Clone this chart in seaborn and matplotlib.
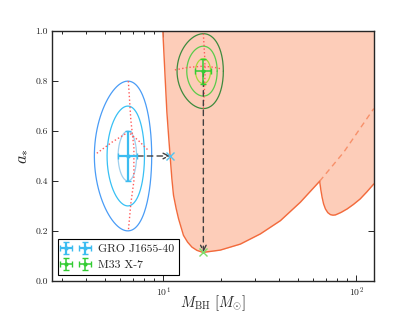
import numpy as np
import matplotlib
matplotlib.use("Agg")
import matplotlib.pyplot as plt
import pandas as pd
import seaborn as sns

# ---- spin measurements (mass, spin, 1-sigma errors) ----
sources = ["GRO J1655-40", "M33 X-7"]
mass = [6.56, 16.15]
mass_err = [0.72, 1.45]
spin = [0.50, 0.84]
spin_err = [0.10, 0.05]
err_colors = ["#3cbcf0", "#33cc33"]
contour_colors = [["#9fd0ee", "#38c0f4", "#4a9cf6"],
                  ["#a6d836", "#5acb4a", "#3d8a3d"]]

# ---- ridge lines through the likelihood (red dotted) ----
ridge_v_m = [[6.60, 6.80, 7.05, 7.05, 6.80, 6.60], [16.15, 16.4, 16.5, 16.35, 16.15]]
ridge_v_a = [[0.80, 0.643, 0.535, 0.40, 0.31, 0.20], [0.99, 0.90, 0.84, 0.76, 0.69]]
ridge_h_m = [[4.53, 5.42, 6.60, 7.44, 8.39], [11.5, 13.5, 16.2, 18.5, 20.2]]
ridge_h_a = [[0.511, 0.555, 0.596, 0.562, 0.522], [0.845, 0.855, 0.86, 0.855, 0.848]]

# ---- where each source ends up (x markers) ----
end_mass = [10.87, 16.15]
end_spin = [0.50, 0.114]
end_colors = ["#55c4f0", "#7ddc6a"]

# ---- allowed region boundary ----
branch1_m = [9.96, 10.24, 10.45, 10.66, 10.87, 11.09, 11.31, 11.68, 12.01, 12.74,
             13.38, 14.09, 14.95, 15.88, 16.19, 19.76, 25.1, 31.9, 40.5, 51.4, 64.7]
branch1_a = [1.0, 0.811, 0.677, 0.584, 0.497, 0.410, 0.343, 0.289, 0.249, 0.182,
             0.155, 0.135, 0.122, 0.115, 0.114, 0.123, 0.147, 0.188, 0.241, 0.315, 0.399]
branch2_m = [64.7, 65.6, 66.6, 67.8, 69.3, 71.3, 73.6, 75.8, 78.1, 83.5, 89.8, 96.8, 104.9, 113.5, 123.4]
branch2_a = [0.399, 0.365, 0.335, 0.308, 0.288, 0.273, 0.265, 0.263, 0.264, 0.274, 0.288, 0.306, 0.328, 0.356, 0.388]
dashed_m = [64.7, 86.2, 123.4]
dashed_a = [0.399, 0.515, 0.69]

FILL = "#fdcdb9"
EDGE = "#f26a3c"

sns.set_style("ticks")
plt.rcParams["font.family"] = ["cmr10", "DejaVu Serif"]
plt.rcParams["mathtext.fontset"] = "cm"
plt.rcParams["axes.formatter.use_mathtext"] = True
plt.rcParams["axes.unicode_minus"] = False

fig, ax = plt.subplots(figsize=(4.15, 3.12), dpi=100)
fig.subplots_adjust(left=0.125, right=0.9, bottom=0.1, top=0.9)

# shaded region
edge_m = branch1_m + branch2_m[1:]
edge_a = branch1_a + branch2_a[1:]
ax.fill_between(edge_m, edge_a, 1.0, color=FILL, lw=0, zorder=1)
sns.lineplot(x=branch1_m, y=branch1_a, ax=ax, color=EDGE, lw=1, sort=False, legend=False, zorder=2)
sns.lineplot(x=branch2_m, y=branch2_a, ax=ax, color=EDGE, lw=1, sort=False, legend=False, zorder=2)
sns.lineplot(x=dashed_m, y=dashed_a, ax=ax, color="#f7906a", lw=1, ls=(0, (4, 3)),
             sort=False, legend=False, zorder=2)

# contours (1, 2, 3 sigma) and ridges
t = np.linspace(0, 2 * np.pi, 200)
for i in range(len(sources)):
    for k, c in enumerate(contour_colors[i]):
        n = k + 1
        ax.plot(mass[i] + n * mass_err[i] * np.cos(t), spin[i] + n * spin_err[i] * np.sin(t),
                color=c, lw=0.9, zorder=3)
    ax.plot(ridge_v_m[i], ridge_v_a[i], color="#ff5a5a", ls=":", lw=1, zorder=4)
    ax.plot(ridge_h_m[i], ridge_h_a[i], color="#ff5a5a", ls=":", lw=1, zorder=4)

# arrows to the boundary
for i in range(len(sources)):
    ax.annotate("", xy=(end_mass[i], end_spin[i]), xytext=(mass[i], spin[i]),
                arrowprops=dict(arrowstyle="->", ls=(0, (4, 3)), color="0.25", lw=1,
                                shrinkA=0, shrinkB=0), zorder=5)
    ax.plot(end_mass[i], end_spin[i], marker="x", ms=6, mew=1, color=end_colors[i], zorder=6)

# error bars
for i in range(len(sources)):
    ax.errorbar(mass[i], spin[i], xerr=mass_err[i], yerr=spin_err[i], fmt=".",
                color=err_colors[i], ms=4, elinewidth=1.6 if i == 0 else 1.1,
                capsize=2, capthick=1, label=sources[i], zorder=7)

ax.set_xscale("log")
ax.set_xlim(2.65, 123)
ax.set_ylim(0, 1)
ax.set_yticks([0.0, 0.2, 0.4, 0.6, 0.8, 1.0])
ax.yaxis.set_major_formatter(matplotlib.ticker.FormatStrFormatter("%.1f"))
ax.tick_params(which="both", direction="in", top=True, right=True, labelsize=7, width=0.7, pad=3)
ax.tick_params(which="major", length=4)
ax.tick_params(which="minor", length=2)
for s in ax.spines.values():
    s.set_color("0.15")
    s.set_linewidth(1)

ax.set_xlabel(r"$M_{\rm BH}\ [M_{\odot}]$", fontsize=10.5)
ax.xaxis.set_label_coords(0.5, -0.05)
ax.set_ylabel(r"$a_{*}$", fontsize=12, labelpad=4)

leg = ax.legend(loc="lower left", numpoints=2, fontsize=8.5, fancybox=False,
                edgecolor="k", framealpha=1, handlelength=2.2)
leg.get_frame().set_linewidth(0.8)

fig.savefig("out.png", dpi=100)
